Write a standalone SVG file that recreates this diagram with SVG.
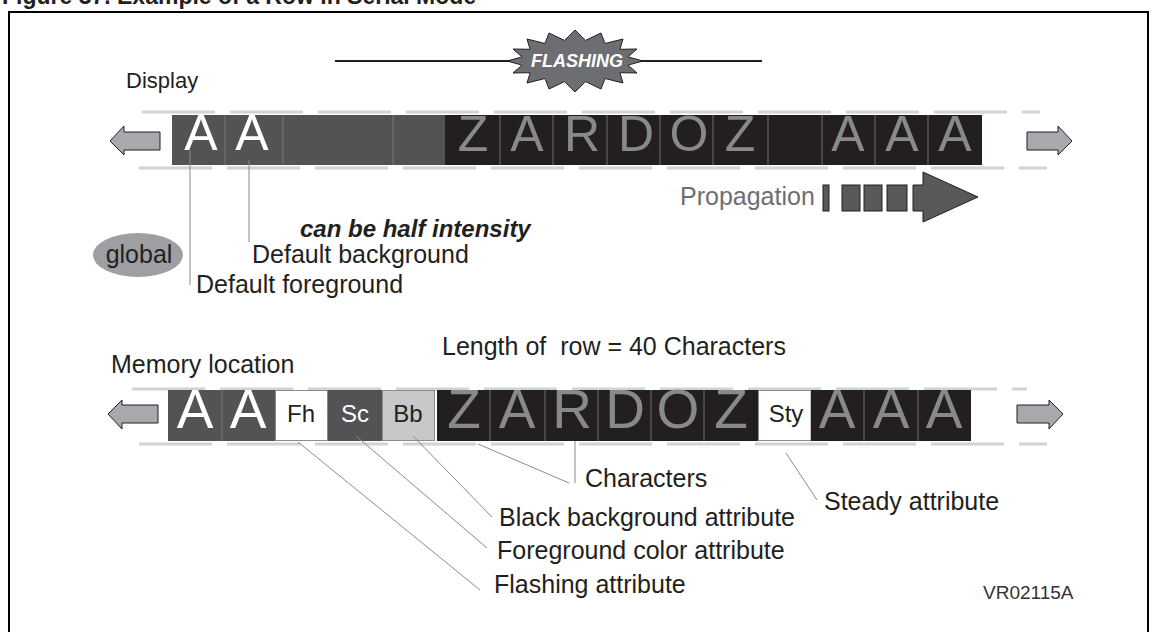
<svg xmlns="http://www.w3.org/2000/svg" width="1154" height="632" viewBox="0 0 1154 632">
<style>
text{font-family:"Liberation Sans",Arial,sans-serif;fill:#231f20}
.lbl{font-size:25px}
.big{font-size:50px;text-anchor:middle}
.mbig{font-size:55px;text-anchor:middle}
.w{fill:#ffffff}
.g{fill:#88898b}
.cl{font-size:24px;text-anchor:middle}
.dk{fill:#535355}
.bk{fill:#231f20}
.sep{stroke:#6d6e71;stroke-width:1}
.sepd{stroke:#77787b;stroke-width:1}
.dash{stroke:#d1d2d4;stroke-width:3;stroke-dasharray:73 15;fill:none}
.lead{stroke:#8a8b8d;stroke-width:1;fill:none}
.arr{fill:#a7a9ac;stroke:#231f20;stroke-width:1}
.pb{fill:#58595b;stroke:#231f20;stroke-width:1}
</style>

<g id="title">
<text x="2" y="4" style="font-size:23px;font-weight:bold">Figure 37. Example of a Row in Serial Mode</text>
</g>
<rect id="frame" x="9" y="12" width="1139" height="640" fill="none" stroke="#000" stroke-width="2"/>

<g id="flashing">
<line x1="335" y1="61" x2="762" y2="61" stroke="#231f20" stroke-width="2"/>
<polygon points="643,61 628,65.1 637,73 619.9,72.7 623,83 605,78.5 601,89 585.5,81.6 575,92 564.5,81.6 549,89 545,78.5 527,83 530.1,72.7 513,73 522,65.1 507,61 522,56.9 513,49 530.1,49.3 527,39 545,43.5 549,33 564.5,40.4 575,30 585.5,40.4 601,33 605,43.5 623,39 619.9,49.3 637,49 628,56.9" fill="#6d6e71" stroke="#231f20" stroke-width="1"/>
<text x="577" y="67" text-anchor="middle" style="font-size:18px;font-weight:bold;font-style:italic;fill:#fff">FLASHING</text>
</g>

<g id="display-label"><text class="lbl" x="126" y="88" style="font-size:22px">Display</text></g>

<g id="display-row">
<line class="dash" x1="142" y1="112" x2="1040" y2="112"/>
<line class="dash" x1="139" y1="168" x2="1047" y2="168"/>
<path class="arr" d="M110,141 L124,126 L124,132 L160,132 L160,150 L124,150 L124,155 Z"/>
<path class="arr" d="M1072,141 L1058,126 L1058,132 L1027,132 L1027,150 L1058,150 L1058,155 Z"/>
<rect class="dk" x="172" y="115" width="273" height="50"/>
<line class="sepd" x1="225" y1="115" x2="225" y2="165"/>
<line class="sepd" x1="283" y1="115" x2="283" y2="165"/>
<line class="sepd" x1="393" y1="115" x2="393" y2="165"/>
<rect class="bk" x="445" y="115" width="537" height="50"/>
<g class="sep">
<line x1="500" y1="115" x2="500" y2="165"/><line x1="553" y1="115" x2="553" y2="165"/>
<line x1="607" y1="115" x2="607" y2="165"/><line x1="660" y1="115" x2="660" y2="165"/>
<line x1="713" y1="115" x2="713" y2="165"/><line x1="768" y1="115" x2="768" y2="165"/>
<line x1="822" y1="115" x2="822" y2="165"/><line x1="875" y1="115" x2="875" y2="165"/>
<line x1="928" y1="115" x2="928" y2="165"/>
</g>
<text class="big w" x="201" y="150">A</text>
<text class="big w" x="252" y="150">A</text>
<text class="big g" x="473" y="151">Z</text>
<text class="big g" x="527" y="151">A</text>
<text class="big g" x="582" y="151">R</text>
<text class="big g" x="636" y="151">D</text>
<text class="big g" x="689" y="151">O</text>
<text class="big g" x="740" y="151">Z</text>
<text class="big g" x="848" y="151">A</text>
<text class="big g" x="902" y="151">A</text>
<text class="big g" x="955" y="151">A</text>
</g>

<g id="propagation">
<text class="lbl" x="680" y="205" style="fill:#6d6e71">Propagation</text>
<rect class="pb" x="823" y="185" width="6" height="26"/>
<rect class="pb" x="842" y="185" width="18" height="26"/>
<rect class="pb" x="864" y="185" width="18" height="26"/>
<rect class="pb" x="887" y="185" width="20" height="26"/>
<path class="pb" d="M913,185 L923,185 L923,172 L978,197 L923,222 L923,211 L913,211 Z"/>
</g>

<g id="global">
<ellipse cx="138" cy="255" rx="45" ry="22" fill="#9d9fa2"/>
<text class="lbl" x="139" y="263" text-anchor="middle">global</text>
</g>

<g id="display-labels">
<text x="300" y="237" style="font-size:24px;font-weight:bold;font-style:italic">can be half intensity</text>
<text class="lbl" x="252" y="263">Default background</text>
<text class="lbl" x="196" y="293">Default foreground</text>
</g>

<g id="memory-label"><text class="lbl" x="111" y="373">Memory location</text></g>
<g id="length-label"><text class="lbl" x="442" y="355" xml:space="preserve">Length of  row = 40 Characters</text></g>

<g id="memory-row">
<line class="dash" x1="132" y1="389" x2="1027" y2="389"/>
<line class="dash" x1="139" y1="444" x2="1047" y2="444"/>
<path class="arr" d="M108,414 L122,400 L122,405 L158,405 L158,423 L122,423 L122,429 Z"/>
<path class="arr" d="M1063,414 L1049,400 L1049,405 L1017,405 L1017,423 L1049,423 L1049,429 Z"/>
<rect class="dk" x="168" y="390" width="107" height="51"/>
<line class="sepd" x1="222" y1="390" x2="222" y2="441"/>
<rect x="275.5" y="390.5" width="52" height="50" fill="#fff" stroke="#8a8b8d"/>
<rect class="dk" x="328" y="390" width="54" height="51"/>
<rect x="382.5" y="390.5" width="52" height="50" fill="#c7c8ca" stroke="#8a8b8d"/>
<rect class="bk" x="437" y="390" width="321" height="51"/>
<rect x="758.5" y="390.5" width="52.5" height="50" fill="#fff" stroke="#8a8b8d"/>
<rect class="bk" x="811" y="390" width="160" height="51"/>
<g class="sep">
<line x1="490" y1="390" x2="490" y2="441"/><line x1="545" y1="390" x2="545" y2="441"/>
<line x1="598" y1="390" x2="598" y2="441"/><line x1="651" y1="390" x2="651" y2="441"/>
<line x1="704" y1="390" x2="704" y2="441"/>
<line x1="864" y1="390" x2="864" y2="441"/><line x1="918" y1="390" x2="918" y2="441"/>
</g>
<text class="mbig w" x="195" y="428">A</text>
<text class="mbig w" x="248" y="428">A</text>
<text class="cl" x="301" y="422">Fh</text>
<text class="cl w" x="355" y="422">Sc</text>
<text class="cl" x="408" y="422">Bb</text>
<text class="mbig g" x="464" y="428">Z</text>
<text class="mbig g" x="517" y="428">A</text>
<text class="mbig g" x="572" y="428">R</text>
<text class="mbig g" x="625" y="428">D</text>
<text class="mbig g" x="678" y="428">O</text>
<text class="mbig g" x="731" y="428">Z</text>
<text class="cl" x="786" y="422">Sty</text>
<text class="mbig g" x="837" y="428">A</text>
<text class="mbig g" x="891" y="428">A</text>
<text class="mbig g" x="944" y="428">A</text>
</g>

<g id="connectors">
<line class="lead" x1="190" y1="150" x2="190" y2="285"/>
<line class="lead" x1="249" y1="160" x2="249" y2="242"/>
<line class="lead" x1="478" y1="444" x2="569" y2="483"/>
<line class="lead" x1="575" y1="441" x2="575" y2="483"/>
<line class="lead" x1="413" y1="436" x2="492" y2="517"/>
<line class="lead" x1="356" y1="436" x2="487" y2="548"/>
<line class="lead" x1="298" y1="442" x2="480" y2="590"/>
<line class="lead" x1="786" y1="453" x2="817" y2="500"/>
</g>

<g id="memory-labels">
<text class="lbl" x="585" y="487">Characters</text>
<text class="lbl" x="499" y="526">Black background attribute</text>
<text class="lbl" x="497" y="559">Foreground color attribute</text>
<text class="lbl" x="494" y="593">Flashing attribute</text>
<text class="lbl" x="824" y="510">Steady attribute</text>
</g>

<g id="ref"><text x="983" y="599" style="font-size:19px;fill:#333">VR02115A</text></g>
</svg>
